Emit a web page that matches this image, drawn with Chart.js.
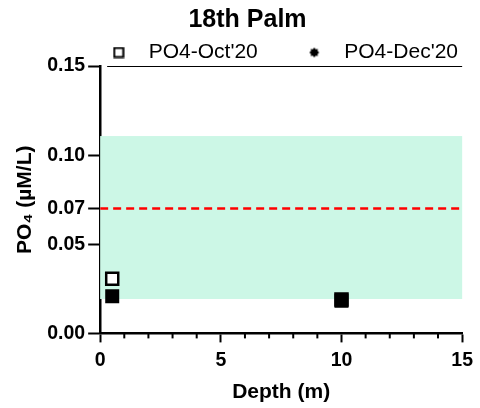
<!DOCTYPE html>
<html>
<head>
<meta charset="utf-8">
<script src="https://cdn.jsdelivr.net/npm/chart.js@4"></script>
<style>
  body { margin: 0; background: #fff; }
  #wrap { width: 480px; height: 408px; }
</style>
</head>
<body>
<div id="wrap"><canvas id="chart" width="480" height="408"></canvas></div>
<script>
// depth (m) and PO4 values
const depths = [0.5, 10];
const octValues = [0.0307, 0.019];
const decValues = [0.0209, 0.0183];
const yTicks = [0, 0.05, 0.07, 0.10, 0.15];
const thresholdValue = 0.07;
const bandRange = [0.0193, 0.1107]; // shaded range

const font = "'Liberation Sans', Arial, sans-serif";

// small canvases used as legend markers
function makeMarker(draw) {
    const c = document.createElement('canvas');
    c.width = 12; c.height = 12;
    draw(c.getContext('2d'));
    return c;
}
const octMarker = makeMarker(g => {
    g.strokeStyle = '#000';
    g.lineWidth = 2;
    g.strokeRect(1.5, 1.5, 9, 9);
});
const decMarker = makeMarker(g => {
    g.fillStyle = '#000';
    g.beginPath();
    for (let i = 0; i < 16; i++) {
        const r = i % 2 === 0 ? 5 : 3.6;
        const a = i * Math.PI / 8;
        g.lineTo(6 + r * Math.cos(a), 6 + r * Math.sin(a));
    }
    g.closePath();
    g.fill();
});

// shaded band behind the points + line on top of the plot
const bandPlugin = {
    id: 'band',
    afterLayout(chart) {
        // nudge the legend down and left, like in the original
        const lg = chart.legend;
        lg.top += 7; lg.bottom += 7;
        lg.right -= 22;
    },
    beforeDatasetsDraw(chart) {
        const { ctx, chartArea, scales } = chart;
        const yTop = scales.y.getPixelForValue(bandRange[1]);
        const yBot = scales.y.getPixelForValue(bandRange[0]);
        ctx.save();
        ctx.fillStyle = 'rgb(204,247,230)';
        ctx.fillRect(chartArea.left, yTop, chartArea.right - chartArea.left, yBot - yTop);
        ctx.restore();
    },
    afterDraw(chart) {
        const { ctx, chartArea, scales } = chart;
        ctx.save();
        ctx.strokeStyle = '#000';
        ctx.lineWidth = 1;
        ctx.beginPath();
        ctx.moveTo(chartArea.left + 7, chartArea.top + 0.5);
        ctx.lineTo(chartArea.right, chartArea.top + 0.5);
        ctx.stroke();
        // minor x ticks
        ctx.lineWidth = 2;
        for (let v = 0; v <= 15; v++) {
            if (v % 5 === 0) continue;
            const x = scales.x.getPixelForValue(v);
            ctx.beginPath();
            ctx.moveTo(x, chartArea.bottom);
            ctx.lineTo(x, chartArea.bottom + 5);
            ctx.stroke();
        }
        ctx.restore();
    }
};

const ctx = document.getElementById('chart').getContext('2d');
new Chart(ctx, {
    type: 'scatter',
    data: {
        datasets: [
            {
                label: "PO4-Oct'20",
                data: depths.map((d, i) => ({ x: d, y: octValues[i] })),
                pointStyle: 'rect',
                pointRadius: 8.5,
                borderWidth: 2.5,
                borderColor: '#000',
                backgroundColor: '#fff',
                order: 1
            },
            {
                label: "PO4-Dec'20",
                data: depths.map((d, i) => ({ x: d, y: decValues[i] })),
                pointStyle: 'rect',
                pointRadius: 8.5,
                borderWidth: 2,
                borderColor: '#000',
                backgroundColor: '#000',
                order: 0
            },
            {
                type: 'line',
                label: 'threshold',
                data: [{ x: 0, y: thresholdValue }, { x: 15, y: thresholdValue }],
                borderColor: '#ff0000',
                borderWidth: 2.5,
                borderDash: [8, 5],
                pointRadius: 0,
                order: 2
            }
        ]
    },
    options: {
        responsive: false,
        animation: false,
        layout: { padding: { left: 13, right: -2, top: 0, bottom: 3 } },
        plugins: {
            title: {
                display: true,
                text: '18th Palm',
                color: '#000',
                font: { family: font, size: 25, weight: 'bold', lineHeight: 1.0 },
                padding: { top: 8, bottom: 0 }
            },
            legend: {
                position: 'top',
                align: 'end',
                labels: {
                    usePointStyle: true,
                    pointStyleWidth: 39,
                    color: '#000',
                    font: { family: font, size: 21 },
                    boxHeight: 12,
                    padding: 2,
                    sort: (a, b) => a.datasetIndex - b.datasetIndex,
                    generateLabels(chart) {
                        return Chart.defaults.plugins.legend.labels.generateLabels(chart)
                            .filter(l => l.text !== 'threshold')
                            .map(l => {
                                if (l.text === "PO4-Dec'20") {
                                    l.pointStyle = decMarker;
                                } else {
                                    l.pointStyle = octMarker;
                                    l.text += '      '; // spacing between the two entries
                                }
                                return l;
                            });
                    }
                }
            },
            tooltip: { enabled: false }
        },
        scales: {
            x: {
                type: 'linear',
                min: 0,
                max: 15,
                ticks: {
                    stepSize: 5,
                    color: '#000',
                    font: { family: font, size: 19.5, weight: 'bold' },
                    padding: 7
                },
                grid: { drawOnChartArea: false, tickLength: 9, tickWidth: 2, tickColor: '#000' },
                border: { color: '#000', width: 2.5 },
                title: {
                    display: true,
                    text: 'Depth (m)',
                    color: '#000',
                    font: { family: font, size: 21, weight: 'bold' },
                    padding: { top: 0, bottom: 0 }
                }
            },
            y: {
                type: 'linear',
                min: 0,
                max: 0.15,
                afterBuildTicks(axis) {
                    axis.ticks = yTicks.map(v => ({ value: v }));
                },
                ticks: {
                    callback: v => v.toFixed(2),
                    color: '#000',
                    font: { family: font, size: 19.5, weight: 'bold' },
                    padding: 3
                },
                grid: { drawOnChartArea: false, tickLength: 12, tickWidth: 2, tickColor: '#000' },
                border: { color: '#000', width: 2.5 },
                title: {
                    display: true,
                    text: 'PO\u2084 (\u00b5M/L)',
                    color: '#000',
                    font: { family: font, size: 21, weight: 'bold' },
                    padding: { top: 0, bottom: 6 }
                }
            }
        }
    },
    plugins: [bandPlugin]
});
</script>
</body>
</html>
